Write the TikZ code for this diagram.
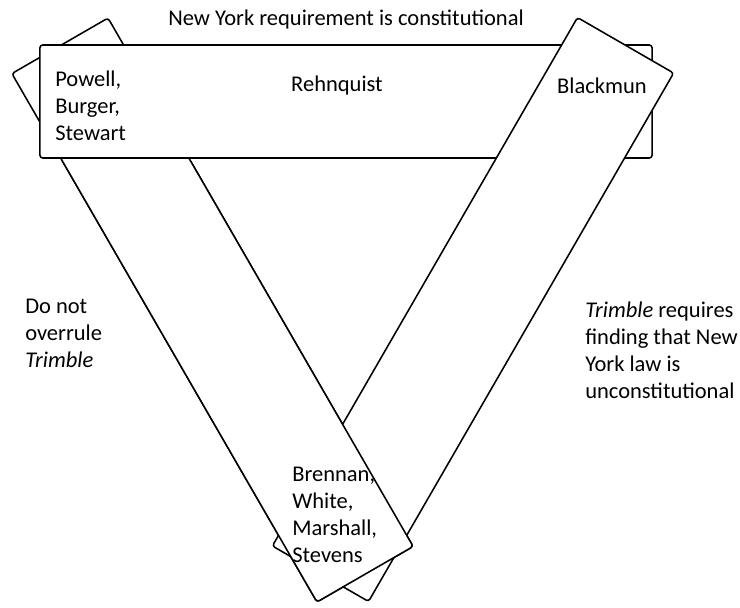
\documentclass[tikz,border=0pt]{standalone}
\usepackage{fontspec}
\setmainfont{Carlito}
\usetikzlibrary{positioning}

\begin{document}
\begin{tikzpicture}[x=0.025cm, y=0.025cm,
	band/.style={draw, rectangle, rounded corners=2pt, fill=white, line width=1.1pt, minimum width=15.25cm, minimum height=2.775cm},
	words/.style={align=left, inner sep=0pt, font=\fontsize{16}{19.2}\selectfont}
	]
	\useasboundingbox (0,0) rectangle (740,-607);
	\node[band, rotate=-60] (left) at (212.5,-310) {};
	\node[band, minimum width=15.3cm, minimum height=2.825cm] (top) at (346,-101.5) {};
	\node[band, rotate=60] (right) at (473,-309.5) {};
	% left band lies over the right one at the bottom
	\begin{scope}
		\clip (0,-161) rectangle (740,-607);
		\node[band, rotate=-60] (leftfront) at (left.center) {};
	\end{scope}
	
	\node[words] (title) at (346,-19) {New York requirement is constitutional};
	\node[words, anchor=west] (powell) at (55,-106) {Powell,\\Burger,\\Stewart};
	\node[words] (rehnquist) at (337,-85) {Rehnquist};
	\node[words] (blackmun) at (602,-86) {Blackmun};
	\node[words, anchor=west] (brennan) at (292,-515) {Brennan,\\White,\\Marshall,\\Stevens};
	\node[words, anchor=west] (overrule) at (25,-333) {Do not\\overrule\\\textit{Trimble}};
	\node[words, anchor=west] (requires) at (585,-350) {\textit{Trimble} requires\\finding that New\\York law is\\unconstitutional};
\end{tikzpicture}
\end{document}
